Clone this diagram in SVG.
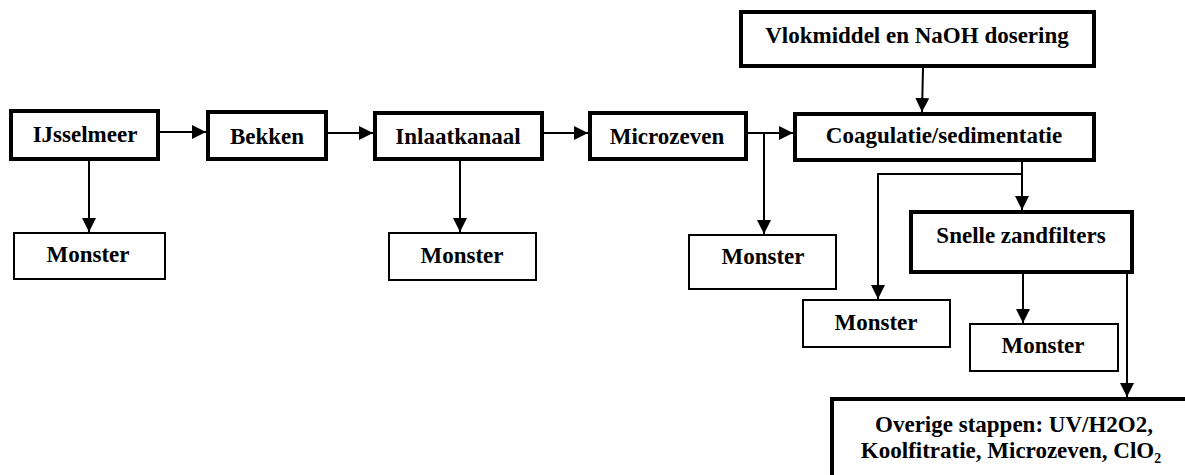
<svg xmlns="http://www.w3.org/2000/svg" width="1185" height="475" viewBox="0 0 1185 475">
<style>
.thick{fill:#fff;stroke:#000;stroke-width:4}
.thin{fill:#fff;stroke:#000;stroke-width:2}
.lbl{font-family:"Liberation Serif","Times New Roman",serif;font-weight:bold;font-size:23px;fill:#000;text-anchor:middle}
.con{fill:none;stroke:#000;stroke-width:2}
</style>
<defs>
<marker id="arr" markerUnits="userSpaceOnUse" markerWidth="14" markerHeight="14" refX="14" refY="7" orient="auto">
<path d="M0,0 L14,7 L0,14 Z" fill="#000"/>
</marker>
</defs>
<rect width="1185" height="475" fill="#fff"/>
<g id="connectors">
<line class="con" x1="160" y1="132" x2="206" y2="132" marker-end="url(#arr)"/>
<line class="con" x1="328" y1="133" x2="373" y2="133" marker-end="url(#arr)"/>
<line class="con" x1="544" y1="133" x2="588" y2="133" marker-end="url(#arr)"/>
<line class="con" x1="748" y1="133" x2="793" y2="133" marker-end="url(#arr)"/>
<line class="con" x1="764" y1="133" x2="764" y2="234" marker-end="url(#arr)"/>
<line class="con" x1="89" y1="160" x2="89" y2="232" marker-end="url(#arr)"/>
<line class="con" x1="460" y1="161" x2="460" y2="232" marker-end="url(#arr)"/>
<line class="con" x1="923" y1="68" x2="922" y2="112" marker-end="url(#arr)"/>
<line class="con" x1="1022" y1="162" x2="1022" y2="210" marker-end="url(#arr)"/>
<polyline class="con" points="1023,174 878,174 878,299" marker-end="url(#arr)"/>
<line class="con" x1="1023" y1="274" x2="1023" y2="323" marker-end="url(#arr)"/>
<line class="con" x1="1127" y1="274" x2="1127" y2="397" marker-end="url(#arr)"/>
</g>
<g id="ijsselmeer"><rect class="thick" x="11" y="111" width="147" height="48"/><text class="lbl" x="85" y="142">IJsselmeer</text></g>
<g id="bekken"><rect class="thick" x="208" y="112" width="118" height="47"/><text class="lbl" x="267" y="144">Bekken</text></g>
<g id="inlaatkanaal"><rect class="thick" x="375" y="113" width="167" height="46"/><text class="lbl" x="458" y="144">Inlaatkanaal</text></g>
<g id="microzeven"><rect class="thick" x="590" y="113" width="156" height="46"/><text class="lbl" x="667" y="144">Microzeven</text></g>
<g id="vlokmiddel"><rect class="thick" x="741" y="12" width="353" height="54"/><text class="lbl" x="917" y="43">Vlokmiddel en NaOH dosering</text></g>
<g id="coagulatie"><rect class="thick" x="795" y="114" width="299" height="46"/><text class="lbl" x="944" y="143">Coagulatie/sedimentatie</text></g>
<g id="snelle"><rect class="thick" x="911" y="212" width="221" height="60"/><text class="lbl" x="1021" y="243">Snelle zandfilters</text></g>
<g id="overige"><rect class="thick" x="832" y="399" width="400" height="100"/><text class="lbl" x="1014" y="432">Overige stappen: UV/H2O2,</text><text class="lbl" x="1011" y="458">Koolfitratie, Microzeven, ClO₂</text></g>
<g id="monster1"><rect class="thin" x="14" y="233" width="151" height="46"/><text class="lbl" x="88" y="262">Monster</text></g>
<g id="monster2"><rect class="thin" x="389" y="233" width="147" height="47"/><text class="lbl" x="462" y="263">Monster</text></g>
<g id="monster3"><rect class="thin" x="689" y="235" width="147" height="54"/><text class="lbl" x="763" y="264">Monster</text></g>
<g id="monster4"><rect class="thin" x="803" y="300" width="147" height="47"/><text class="lbl" x="876" y="330">Monster</text></g>
<g id="monster5"><rect class="thin" x="970" y="324" width="148" height="47"/><text class="lbl" x="1043" y="353">Monster</text></g>
</svg>
